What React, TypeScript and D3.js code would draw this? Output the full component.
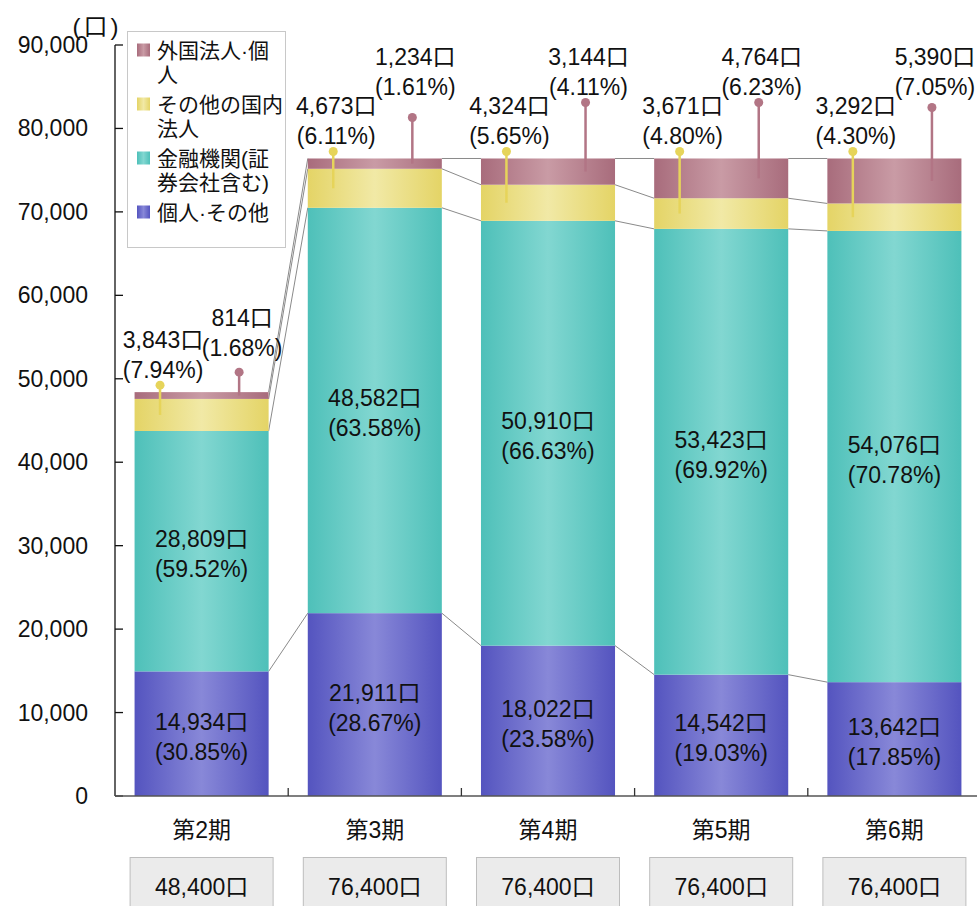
import React from 'react';
import * as d3 from 'd3';

const categories = ['第2期', '第3期', '第4期', '第5期', '第6期'];
const totals = [48400, 76400, 76400, 76400, 76400];
const individual = [14934, 21911, 18022, 14542, 13642];
const financial = [28809, 48582, 50910, 53423, 54076];
const otherDomestic = [3843, 4673, 4324, 3671, 3292];
const foreign = [814, 1234, 3144, 4764, 5390];
const individualPct = ['30.85', '28.67', '23.58', '19.03', '17.85'];
const financialPct = ['59.52', '63.58', '66.63', '69.92', '70.78'];
const otherPct = ['7.94', '6.11', '5.65', '4.80', '4.30'];
const foreignPct = ['1.68', '1.61', '4.11', '6.23', '7.05'];
const yTicks = [0, 10000, 20000, 30000, 40000, 50000, 60000, 70000, 80000, 90000];
const legendItems = [
  { key: 'foreign', lines: ['外国法人·個', '人'] },
  { key: 'other', lines: ['その他の国内', '法人'] },
  { key: 'financial', lines: ['金融機関(証', '券会社含む)'] },
  { key: 'individual', lines: ['個人·その他'] },
];

// layout (not data): callout lifts above bar top
const pinkDotLift = [20, 41, 56, 56, 51];
const pinkLabelLift = [44, 71, 71, 71, 71];

const W = 978;
const H = 906;
const FONT = "'Liberation Sans', Arial, 'Noto Sans CJK JP', sans-serif";

const colors: Record<string, [string, string]> = {
  individual: ['#5454bf', '#8888d8'],
  financial: ['#4ec0b9', '#82d7d1'],
  other: ['#e4d466', '#f1e9a6'],
  foreign: ['#a86c7c', '#c99ba5'],
};

export default function App() {
  const x = d3.scaleBand<string>().domain(categories).range([115, 981]).paddingInner(0.226).paddingOuter(0.113);
  const y = d3.scaleLinear().domain([0, 90000]).range([796, 45]);
  const bw = x.bandwidth();
  const fmt = d3.format(',');

  const stacks = categories.map((c, i) => {
    const segs = [
      { key: 'individual', v: individual[i], pct: individualPct[i] },
      { key: 'financial', v: financial[i], pct: financialPct[i] },
      { key: 'other', v: otherDomestic[i], pct: otherPct[i] },
      { key: 'foreign', v: foreign[i], pct: foreignPct[i] },
    ];
    let acc = 0;
    return segs.map((s) => {
      const y0 = acc;
      acc += s.v;
      return { ...s, y0, y1: acc };
    });
  });

  const fs = 23;
  const twoLine = (cx: number, cy: number, a: string, b: string, key: string) => (
    <g key={key}>
      <text x={cx} y={cy - 15} textAnchor="middle" dominantBaseline="central" fontSize={fs} fontFamily={FONT} fill="#111">{a}</text>
      <text x={cx} y={cy + 15} textAnchor="middle" dominantBaseline="central" fontSize={fs} fontFamily={FONT} fill="#111">{b}</text>
    </g>
  );

  return (
    <svg width={W} height={H} style={{ position: 'absolute', left: 0, top: 0, background: '#fff' }}>
      <defs>
        {Object.entries(colors).map(([k, [dark, light]]) => (
          <linearGradient key={k} id={`g-${k}`} x1="0" x2="1" y1="0" y2="0">
            <stop offset="0" stopColor={dark} />
            <stop offset="0.5" stopColor={light} />
            <stop offset="1" stopColor={dark} />
          </linearGradient>
        ))}
      </defs>

      {/* connector lines */}
      {categories.slice(0, -1).map((c, i) => {
        const xa = (x(c) as number) + bw;
        const xb = x(categories[i + 1]) as number;
        return stacks[i].map((s, j) => (
          <line key={`cn-${i}-${j}`} x1={xa} y1={y(s.y1)} x2={xb} y2={y(stacks[i + 1][j].y1)} stroke="#8a8a8a" strokeWidth={1} />
        ));
      })}

      {/* bars */}
      {stacks.map((segs, i) => (
        <g key={`bar-${i}`}>
          {segs.map((s) => (
            <rect key={s.key} x={x(categories[i])} y={y(s.y1)} width={bw} height={y(s.y0) - y(s.y1)} fill={`url(#g-${s.key})`} />
          ))}
        </g>
      ))}

      {/* inner labels */}
      {stacks.map((segs, i) => {
        const cx = (x(categories[i]) as number) + bw / 2;
        return segs.slice(0, 2).map((s) =>
          twoLine(cx, (y(s.y0) + y(s.y1)) / 2 + 3, `${fmt(s.v)}口`, `(${s.pct}%)`, `in-${i}-${s.key}`)
        );
      })}

      {/* callouts */}
      {stacks.map((segs, i) => {
        const bx = x(categories[i]) as number;
        const top = y(totals[i]);
        const other = segs[2];
        const fr = segs[3];
        const yx = bx + bw * 0.19;
        const px = bx + bw * 0.78;
        const yDot = top - 7;
        const pDot = top - pinkDotLift[i];
        return (
          <g key={`co-${i}`}>
            <line x1={yx} y1={yDot} x2={yx} y2={(y(other.y0) + y(other.y1)) / 2} stroke="#e6d45a" strokeWidth={2.5} />
            <circle cx={yx} cy={yDot} r={4.5} fill="#e6d45a" />
            <line x1={px} y1={pDot} x2={px} y2={(y(fr.y0) + y(fr.y1)) / 2} stroke="#b27585" strokeWidth={2.5} />
            <circle cx={px} cy={pDot} r={4.5} fill="#b27585" />
            {twoLine(yx + 3, top - 22 - 15, `${fmt(other.v)}口`, `(${other.pct}%)`, 'yl')}
            {twoLine(px + 3, top - pinkLabelLift[i] - 15, `${fmt(fr.v)}口`, `(${fr.pct}%)`, 'pl')}
          </g>
        );
      })}

      {/* y axis */}
      <line x1={115} y1={y(90000)} x2={115} y2={796} stroke="#111" strokeWidth={1.3} />
      {yTicks.map((t) => (
        <g key={`yt-${t}`}>
          <line x1={115} x2={123} y1={y(t)} y2={y(t)} stroke="#111" strokeWidth={1.3} />
          <text x={88} y={y(t)} textAnchor="end" dominantBaseline="central" fontSize={fs} fontFamily={FONT} fill="#111">{fmt(t)}</text>
        </g>
      ))}
      <text x={97} y={26} textAnchor="middle" dominantBaseline="central" fontSize={24} letterSpacing={3} fontFamily={FONT} fill="#111">(口)</text>

      {/* x axis */}
      <line x1={115} x2={977} y1={796} y2={796} stroke="#555" strokeWidth={1.3} />
      {categories.slice(1).map((c, i) => {
        const tx = (x(c) as number) - (x.step() - bw) / 2;
        return <line key={`xt-${i}`} x1={tx} x2={tx} y1={788} y2={796} stroke="#333" strokeWidth={1.3} />;
      })}
      {categories.map((c, i) => {
        const cx = (x(c) as number) + bw / 2;
        return (
          <g key={`xl-${i}`}>
            <text x={cx} y={830} textAnchor="middle" dominantBaseline="central" fontSize={23} fontFamily={FONT} fill="#111">{c}</text>
            <rect x={cx - 71.5} y={857.5} width={143} height={60} fill="#ebebeb" stroke="#bdbdbd" strokeWidth={1} />
            <text x={cx} y={887} textAnchor="middle" dominantBaseline="central" fontSize={fs} fontFamily={FONT} fill="#111">{fmt(totals[i])}口</text>
          </g>
        );
      })}

      {/* legend */}
      <rect x={127.5} y={31.5} width={158} height={216} fill="#fff" stroke="#c8c8c8" strokeWidth={1} />
      {(() => {
        let cy = 50;
        return legendItems.map((it) => {
          const rowY = cy;
          cy += 54;
          return (
            <g key={it.key}>
              <rect x={137} y={rowY - 6.5} width={13} height={13} fill={`url(#g-${it.key})`} />
              {it.lines.map((ln, k) => (
                <text key={k} x={157} y={rowY + k * 24.5} dominantBaseline="central" fontSize={21} fontFamily={FONT} fill="#111">{ln}</text>
              ))}
            </g>
          );
        });
      })()}
    </svg>
  );
}
